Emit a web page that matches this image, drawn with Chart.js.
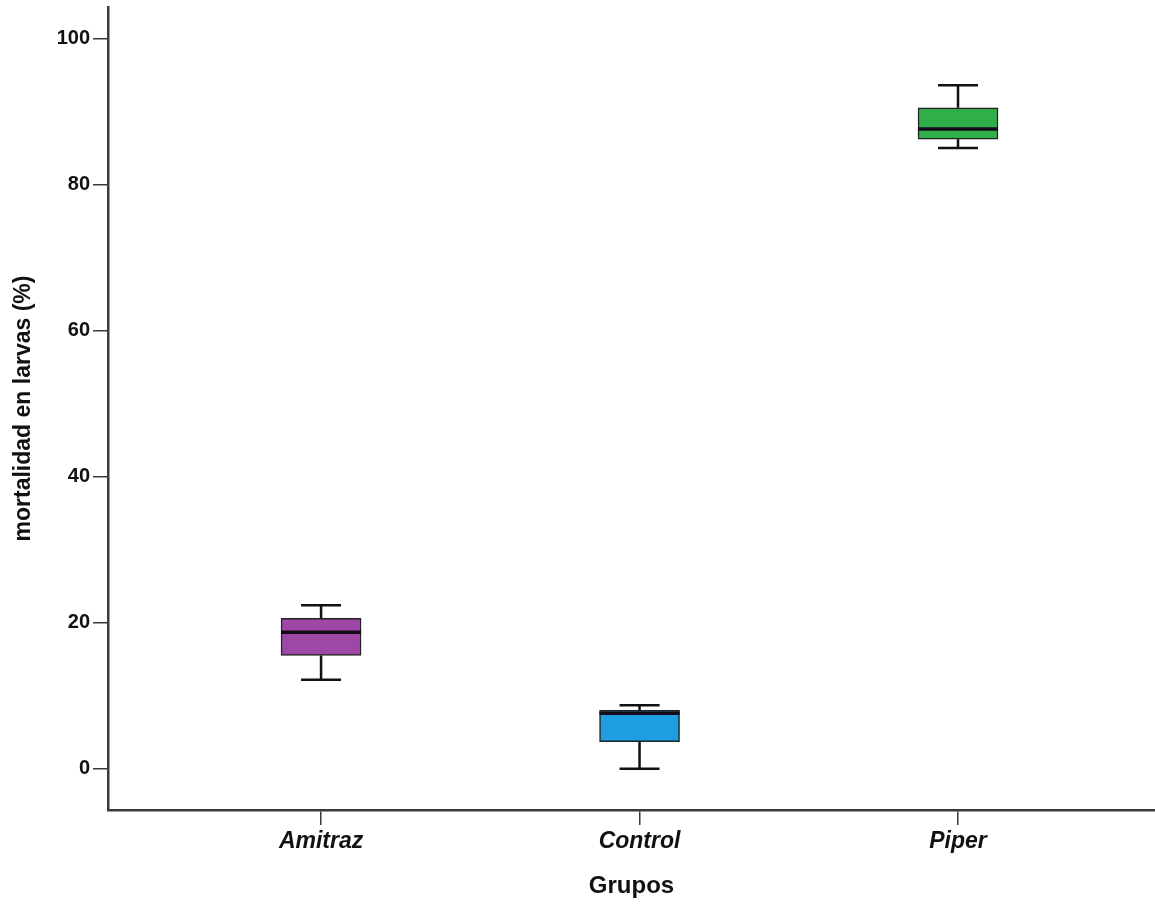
<!DOCTYPE html>
<html>
<head>
<meta charset="utf-8">
<script src="https://cdn.jsdelivr.net/npm/chart.js@4.4.1/dist/chart.umd.min.js"></script>
<style>
  html, body { margin: 0; padding: 0; background: #ffffff; }
  #wrap { width: 1155px; height: 909px; }
</style>
</head>
<body>
<div id="wrap"><canvas id="c" width="1155" height="909"></canvas></div>
<script>
// Groups and their five-number summaries (mortality %)
const categories = ['Amitraz', 'Control', 'Piper'];
const whiskerLow  = [12.2, 0.0, 85.0];
const quartile1   = [15.5, 3.7, 86.2];
const medians     = [18.7, 7.6, 87.6];
const quartile3   = [20.6, 8.0, 90.5];
const whiskerHigh = [22.4, 8.7, 93.6];
const yTickValues = [0, 20, 40, 60, 80, 100];
const boxColors   = ['#9f47a6', '#1e9de2', '#2fae49'];

const axisColor = '#3a3a3a';
const sans = "'Liberation Sans', Arial, sans-serif";

// Whiskers, caps and median lines drawn on top of the boxes
const boxplotExtras = {
  id: 'boxplotExtras',
  afterDatasetsDraw(chart) {
    const ctx = chart.ctx;
    const xs = chart.scales.x, ys = chart.scales.y;
    const meta = chart.getDatasetMeta(0);
    ctx.save();
    categories.forEach((c, i) => {
      const bar = meta.data[i];
      const cx = xs.getPixelForValue(i);
      const half = bar.width / 2;
      const capHalf = half / 2;
      const yLow = ys.getPixelForValue(whiskerLow[i]);
      const yQ1 = ys.getPixelForValue(quartile1[i]);
      const yMed = ys.getPixelForValue(medians[i]);
      const yQ3 = ys.getPixelForValue(quartile3[i]);
      const yHigh = ys.getPixelForValue(whiskerHigh[i]);
      ctx.strokeStyle = '#111';
      ctx.lineWidth = 2.5;
      ctx.beginPath();
      ctx.moveTo(cx, yQ3); ctx.lineTo(cx, yHigh);
      ctx.moveTo(cx - capHalf, yHigh); ctx.lineTo(cx + capHalf, yHigh);
      ctx.moveTo(cx, yQ1); ctx.lineTo(cx, yLow);
      ctx.moveTo(cx - capHalf, yLow); ctx.lineTo(cx + capHalf, yLow);
      ctx.stroke();
      ctx.strokeStyle = '#150a18';
      ctx.lineWidth = 3.5;
      ctx.beginPath();
      ctx.moveTo(cx - half, yMed); ctx.lineTo(cx + half, yMed);
      ctx.stroke();
    });
    ctx.restore();
  }
};

new Chart(document.getElementById('c'), {
  type: 'bar',
  data: {
    datasets: [{
      data: categories.map((c, i) => ({ x: i, y: [quartile1[i], quartile3[i]] })),
      backgroundColor: boxColors,
      borderColor: '#222222',
      borderWidth: 1.5,
      borderSkipped: false,
      barThickness: 80
    }]
  },
  options: {
    responsive: false,
    animation: false,
    layout: { padding: { top: 7, right: 0, left: 0, bottom: 0 } },
    plugins: { legend: { display: false }, tooltip: { enabled: false } },
    scales: {
      x: {
        type: 'linear',
        offset: false,
        min: -0.669,
        max: 2.6185,
        afterBuildTicks(scale) { scale.ticks = categories.map((c, i) => ({ value: i })); },
        afterFit(scale) { scale.height = 99; scale.paddingLeft = 0; scale.paddingRight = 0; },
        grid: { offset: false, drawOnChartArea: false, drawTicks: true, tickLength: 15, color: axisColor, lineWidth: 1.5 },
        border: { display: true, color: axisColor, width: 2.5 },
        ticks: {
          autoSkip: false,
          maxRotation: 0,
          padding: 3,
          color: '#111',
          font: { family: sans, size: 23, weight: 'bold', style: 'italic' },
          callback: (v) => categories[v]
        },
        title: {
          display: true,
          text: 'Grupos',
          color: '#111',
          font: { family: sans, size: 24, weight: 'bold' },
          padding: { top: 0, bottom: 8 }
        }
      },
      y: {
        min: -5.65,
        max: 104.3,
        afterBuildTicks(scale) { scale.ticks = yTickValues.map(v => ({ value: v })); },
        afterFit(scale) { scale.width = 108; scale.paddingTop = 0; scale.paddingBottom = 0; },
        grid: { drawOnChartArea: false, drawTicks: true, tickLength: 15, color: axisColor, lineWidth: 1.5 },
        border: { display: true, color: axisColor, width: 2.5 },
        ticks: {
          padding: 3,
          color: '#111',
          font: { family: sans, size: 20, weight: 'bold' }
        },
        title: {
          display: true,
          text: 'mortalidad en larvas (%)',
          color: '#111',
          font: { family: sans, size: 23, weight: 'bold' },
          padding: { top: 10, bottom: 0 }
        }
      }
    }
  },
  plugins: [boxplotExtras]
});
</script>
</body>
</html>
